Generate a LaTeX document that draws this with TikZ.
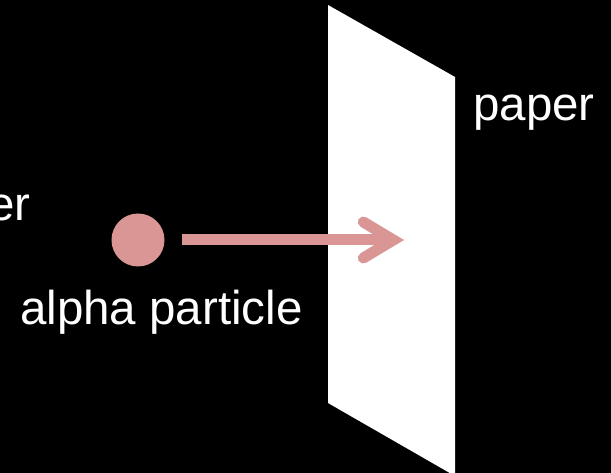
\documentclass[tikz,border=0pt]{standalone}
\usepackage{fontspec}
\setmainfont{Liberation Sans}
\usepackage{xcolor}
\usepackage{tikz}
\usetikzlibrary{arrows.meta,positioning}
\definecolor{alphapink}{HTML}{D99694}

\begin{document}
\begin{tikzpicture}[x=1pt, y=-1pt,
    txt/.style={text=white, font=\fontsize{47.5}{57}\selectfont, inner sep=0pt},
    particle/.style={circle, fill=alphapink, minimum size=53pt, inner sep=0pt},
    arrow/.style={draw=alphapink, line width=11pt,
                  -{Straight Barb[length=30pt, width=36pt, line cap=round]}}
]
\fill[black] (0,0) rectangle (611,473);
\useasboundingbox (0,0) rectangle (611,473);

\fill[white] (328,5) -- (455,77) -- (455,476) -- (328,403) -- cycle;

\node[particle] (alpha) at (138,240) {};
\coordinate (hit) at (404,240);
\draw[arrow, shorten <=17pt] (alpha) -- (hit);

\node[txt, anchor=base west] (alphalbl) at (20,325) {alpha particle};
\node[txt, anchor=base west] (paperlbl) at (473,121) {paper};
\node[txt, anchor=base east] (leftlbl) at (31,221) {er};
\end{tikzpicture}
\end{document}
